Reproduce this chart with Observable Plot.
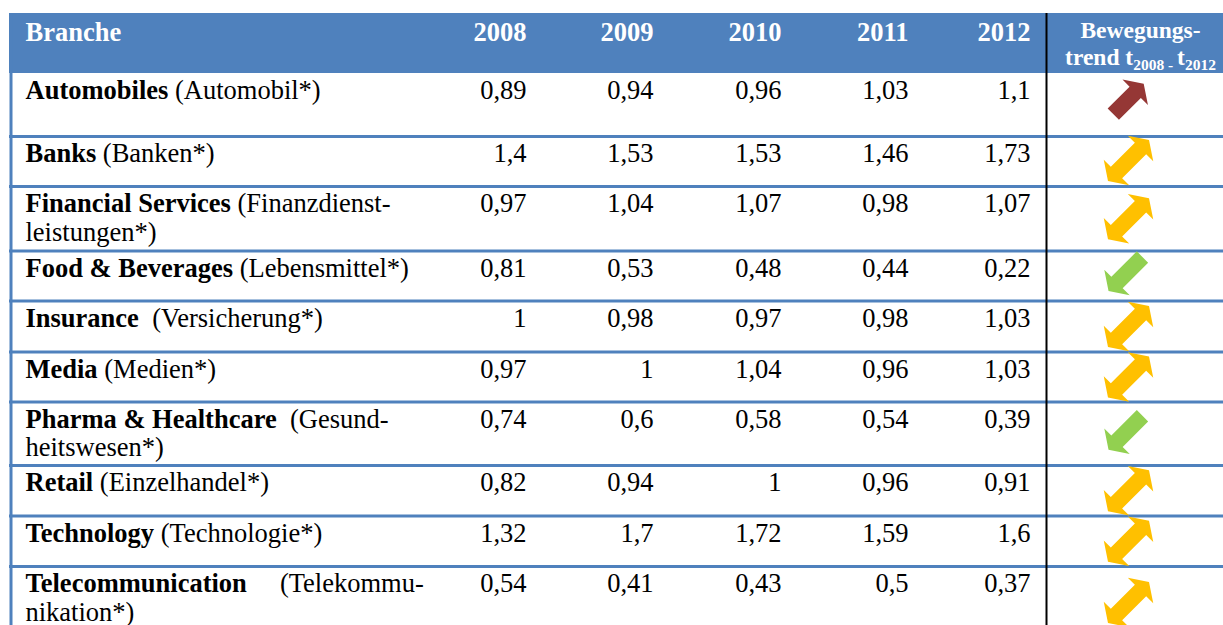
<!DOCTYPE html>
<html><head><meta charset="utf-8">
<script src="https://cdn.jsdelivr.net/npm/d3@7"></script>
<script src="https://cdn.jsdelivr.net/npm/@observablehq/plot@0.6"></script>
<style>html,body{margin:0;padding:0;background:#fff;overflow:hidden}#chart svg{display:block}</style>
</head><body><div id="chart"></div>
<script>
// ---------- DATA ----------
const headerBranche = "Branche";
const years = [2008, 2009, 2010, 2011, 2012];
const headerTrendLine1 = "Bewegungs-";
const headerTrendLine2 = ["trend t", "2008 - ", "t", "2012"]; // big, subscript, big, subscript
const branchen = ["Automobiles", "Banks", "Financial Services", "Food & Beverages", "Insurance", "Media", "Pharma & Healthcare", "Retail", "Technology", "Telecommunication"];
const deutschZeile1 = [" (Automobil*)", " (Banken*)", " (Finanzdienst-", " (Lebensmittel*)", "  (Versicherung*)", " (Medien*)", "  (Gesund-", " (Einzelhandel*)", " (Technologie*)", "     (Telekommu-"];
const deutschZeile2 = ["", "", "leistungen*)", "", "", "", "heitswesen*)", "", "", "nikation*)"];
const v2008 = [0.89, 1.4, 0.97, 0.81, 1, 0.97, 0.74, 0.82, 1.32, 0.54];
const v2009 = [0.94, 1.53, 1.04, 0.53, 0.98, 1, 0.6, 0.94, 1.7, 0.41];
const v2010 = [0.96, 1.53, 1.07, 0.48, 0.97, 1.04, 0.58, 1, 1.72, 0.43];
const v2011 = [1.03, 1.46, 0.98, 0.44, 0.98, 0.96, 0.54, 0.96, 1.59, 0.5];
const v2012 = [1.1, 1.73, 1.07, 0.22, 1.03, 1.03, 0.39, 0.91, 1.6, 0.37];
const trend = ["up", "both", "both", "down", "both", "both", "down", "both", "both", "both"];

// ---------- LAYOUT / STYLE ----------
const W = 1223, H = 625;
const FONT = "'Liberation Serif', 'Times New Roman', serif";
const FS = 26.5, FS_TREND = 23.5, FS_SUB = 15.5;
const BLUE = "#4F81BD";
const TREND_COLORS = {up: "#953735", both: "#FFC000", down: "#92D050"};
const tableLeft = 9, headerTop = 13, headerBottom = 73;
const rowHeights = [63, 50, 64.5, 50, 51, 50, 63.5, 50.5, 50.5, 64];
const colRight = [526, 653, 781, 908, 1030];
const labelX = 25, divider = 1046, trendHeaderCenter = 1140, arrowX = 1128;
const arrowDy = [-6, -1, 0, -2, 0, 0, -1, 0, 0, 4];
const baselineOffset = 25.5, lineGap = 28.5;

const rowTops = [headerBottom];
rowHeights.forEach((h, i) => rowTops.push(rowTops[i] + h));

const ctx = document.createElement("canvas").getContext("2d");
function tw(text, weight, size) { ctx.font = `${weight} ${size}px "Liberation Serif"`; return ctx.measureText(text).width; }

const values = [v2008, v2009, v2010, v2011, v2012];
const rows = branchen.map((name, i) => {
  const raw = deutschZeile1[i];
  const lead = raw.match(/^\s*/)[0];
  return {
    i, name, trend: trend[i],
    de1: raw.trimStart(), de2: deutschZeile2[i],
    baseline: rowTops[i] + baselineOffset,
    deX: labelX + tw(name, "bold", FS) + tw(lead, "normal", FS),
    center: (rowTops[i] + rowTops[i + 1]) / 2 + arrowDy[i]
  };
});
const cells = rows.flatMap(r => years.map((y, j) => ({
  x: colRight[j], y: r.baseline, label: String(values[j][r.i]).replace(".", ",")
})));

// header trend line 2 pieces
const pieceSizes = [FS_TREND, FS_SUB, FS_TREND, FS_SUB];
const pieceWidths = headerTrendLine2.map((t, k) => tw(t, "bold", pieceSizes[k]));
const totalW = d3.sum(pieceWidths);
let cursor = trendHeaderCenter - totalW / 2;
const pieces = headerTrendLine2.map((t, k) => { const p = {text: t, x: cursor, size: pieceSizes[k], y: k % 2 ? 69 : 64.5}; cursor += pieceWidths[k]; return p; });

// block arrow shapes
const SW = 8, HW = 18, HL = 12;
const singleArrow = {draw(c, l) {
  c.moveTo(-SW, 0); c.lineTo(-SW, -(l - HL)); c.lineTo(-HW, -(l - HL)); c.lineTo(0, -l);
  c.lineTo(HW, -(l - HL)); c.lineTo(SW, -(l - HL)); c.lineTo(SW, 0); c.closePath();
}};
const doubleArrow = {draw(c, l) {
  c.moveTo(0, 0); c.lineTo(-HW, -HL); c.lineTo(-SW, -HL); c.lineTo(-SW, -(l - HL)); c.lineTo(-HW, -(l - HL));
  c.lineTo(0, -l); c.lineTo(HW, -(l - HL)); c.lineTo(SW, -(l - HL)); c.lineTo(SW, -HL); c.lineTo(HW, -HL); c.closePath();
}};

const txt = (data, o) => Plot.text(data, {fontFamily: FONT, lineAnchor: "bottom", ...o});

const chart = Plot.plot({
  width: W, height: H, margin: 0,
  x: {domain: [0, W], range: [0, W], axis: null},
  y: {domain: [0, H], range: [0, H], axis: null},
  style: {fontFamily: FONT, background: "#fff"},
  marks: [
    Plot.rect([0], {x1: tableLeft, x2: W, y1: headerTop, y2: headerBottom, fill: BLUE}),
    Plot.ruleY(rowTops.slice(1, -1), {x1: tableLeft, x2: W, stroke: BLUE, strokeWidth: 3}),
    Plot.ruleX([tableLeft + 1.5], {y1: headerTop, y2: H, stroke: BLUE, strokeWidth: 3}),
    Plot.ruleX([divider], {y1: headerTop, y2: H, stroke: "#000", strokeWidth: 2}),
    // header
    txt([headerBranche], {x: labelX, y: 40, text: d => d, textAnchor: "start", fontWeight: "bold", fontSize: FS, fill: "#fff"}),
    txt(years, {x: (d, j) => colRight[j], y: 40, text: d => String(d), textAnchor: "end", fontWeight: "bold", fontSize: FS, fill: "#fff"}),
    txt([headerTrendLine1], {x: trendHeaderCenter, y: 37, text: d => d, textAnchor: "middle", fontWeight: "bold", fontSize: FS_TREND, fill: "#fff"}),
    txt(pieces.filter(p => p.size === FS_TREND), {x: "x", y: "y", text: "text", textAnchor: "start", fontWeight: "bold", fontSize: FS_TREND, fill: "#fff"}),
    txt(pieces.filter(p => p.size === FS_SUB), {x: "x", y: "y", text: "text", textAnchor: "start", fontWeight: "bold", fontSize: FS_SUB, fill: "#fff"}),
    // body labels
    txt(rows, {x: labelX, y: "baseline", text: "name", textAnchor: "start", fontWeight: "bold", fontSize: FS, fill: "#000"}),
    txt(rows, {x: "deX", y: "baseline", text: "de1", textAnchor: "start", fontSize: FS, fill: "#000"}),
    txt(rows.filter(r => r.de2), {x: labelX, y: r => r.baseline + lineGap, text: "de2", textAnchor: "start", fontSize: FS, fill: "#000"}),
    txt(cells, {x: "x", y: "y", text: "label", textAnchor: "end", fontSize: FS, fill: "#000"}),
    // trend arrows
    Plot.vector(rows.filter(r => r.trend === "up"), {x: arrowX, y: "center", length: 43, rotate: 45, anchor: "middle", shape: singleArrow, fill: TREND_COLORS.up, stroke: "none"}),
    Plot.vector(rows.filter(r => r.trend === "down"), {x: arrowX - 3, y: "center", length: 48, rotate: 225, anchor: "middle", shape: singleArrow, fill: TREND_COLORS.down, stroke: "none"}),
    Plot.vector(rows.filter(r => r.trend === "both"), {x: arrowX, y: "center", length: 58, rotate: 45, anchor: "middle", shape: doubleArrow, fill: TREND_COLORS.both, stroke: "none"})
  ]
});
document.getElementById("chart").appendChild(chart);
</script>
</body></html>
